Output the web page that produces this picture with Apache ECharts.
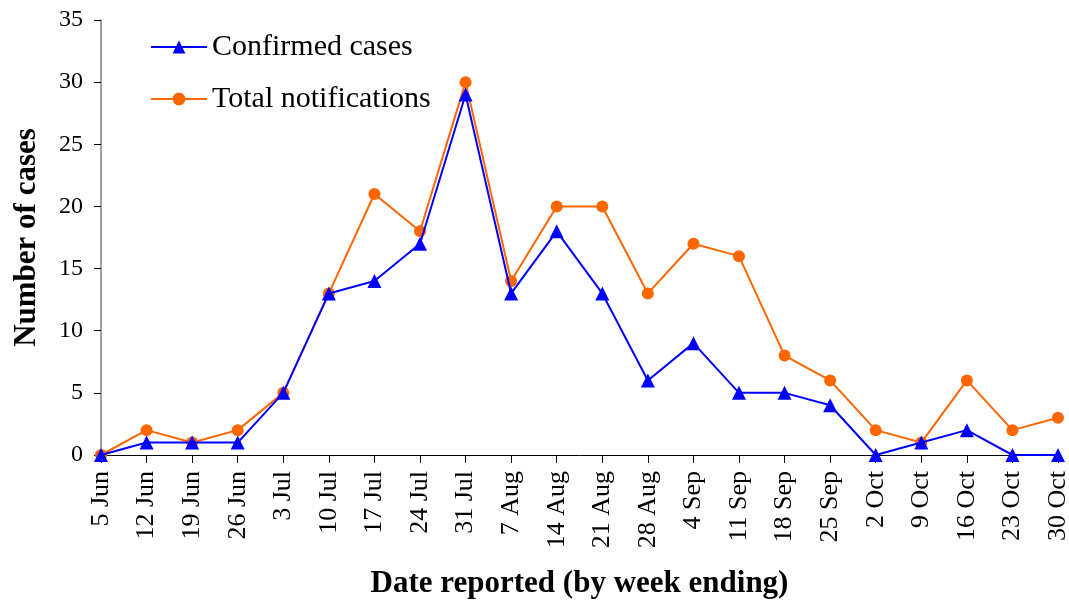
<!DOCTYPE html>
<html>
<head>
<meta charset="utf-8">
<script src="https://cdn.jsdelivr.net/npm/echarts@6/dist/echarts.min.js"></script>
<style>
  html, body { margin: 0; padding: 0; background: #fff; }
  #main { width: 1069px; height: 602px; }
</style>
</head>
<body>
<div id="main"></div>
<script>
// week ending dates
var weeks = ['5 Jun', '12 Jun', '19 Jun', '26 Jun', '3 Jul', '10 Jul', '17 Jul', '24 Jul', '31 Jul',
  '7 Aug', '14 Aug', '21 Aug', '28 Aug', '4 Sep', '11 Sep', '18 Sep', '25 Sep',
  '2 Oct', '9 Oct', '16 Oct', '23 Oct', '30 Oct']
var confirmed = [0, 1, 1, 1, 5, 13, 14, 17, 29, 13, 18, 13, 6, 9, 5, 5, 4, 0, 1, 2, 0, 0]
var notifications = [0, 2, 1, 2, 5, 13, 21, 18, 30, 14, 20, 20, 13, 17, 16, 8, 6, 2, 1, 6, 2, 3]

var font = '"Liberation Serif", "Times New Roman", serif'
var myChart = echarts.init(document.getElementById('main'))

var options = {
  backgroundColor: '#fff',
  animation: false,
  textStyle: { fontFamily: font },
  legend: {
    orient: 'vertical',
    left: 145,
    top: 27,
    itemWidth: 56,
    itemHeight: 16,
    itemGap: 22,
    textStyle: { fontFamily: font, fontSize: 30, lineHeight: 30, color: '#000' },
    data: ['Confirmed cases', 'Total notifications']
  },
  grid: {
    left: 101,
    right: 11,
    top: 20,
    bottom: 147,
    outerBoundsMode: 'none',
    containLabel: false
  },
  xAxis: {
    type: 'category',
    data: weeks,
    boundaryGap: false,
    name: 'Date reported (by week ending)',
    nameLocation: 'middle',
    nameGap: 113,
    nameTextStyle: { fontFamily: font, fontSize: 31, fontWeight: 'bold', color: '#000' },
    axisLine: { lineStyle: { color: '#000', width: 1 } },
    axisTick: { alignWithLabel: true, length: 8, lineStyle: { color: '#000' } },
    axisLabel: { rotate: 90, interval: 0, fontFamily: font, fontSize: 26, color: '#000', margin: 16 },
    splitLine: { show: false }
  },
  yAxis: {
    type: 'value',
    min: 0,
    max: 35,
    interval: 5,
    name: 'Number of cases',
    nameLocation: 'middle',
    nameGap: 59,
    nameTextStyle: { fontFamily: font, fontSize: 31, fontWeight: 'bold', color: '#000' },
    axisLine: { show: true, lineStyle: { color: '#808080', width: 1.5 } },
    axisTick: { show: true, length: 7, lineStyle: { color: '#000' } },
    axisLabel: { fontFamily: font, fontSize: 24, color: '#000', margin: 18 },
    splitLine: { show: false }
  },
  series: [
    {
      name: 'Confirmed cases',
      type: 'line',
      data: confirmed,
      symbol: 'triangle',
      symbolSize: 14,
      z: 3,
      itemStyle: { color: '#0000ff' },
      lineStyle: { color: '#0000ff', width: 2 }
    },
    {
      name: 'Total notifications',
      type: 'line',
      data: notifications,
      symbol: 'circle',
      symbolSize: 12,
      z: 2,
      itemStyle: { color: '#ff6600' },
      lineStyle: { color: '#ff6600', width: 2 }
    }
  ]
}

myChart.setOption(options)
</script>
</body>
</html>
